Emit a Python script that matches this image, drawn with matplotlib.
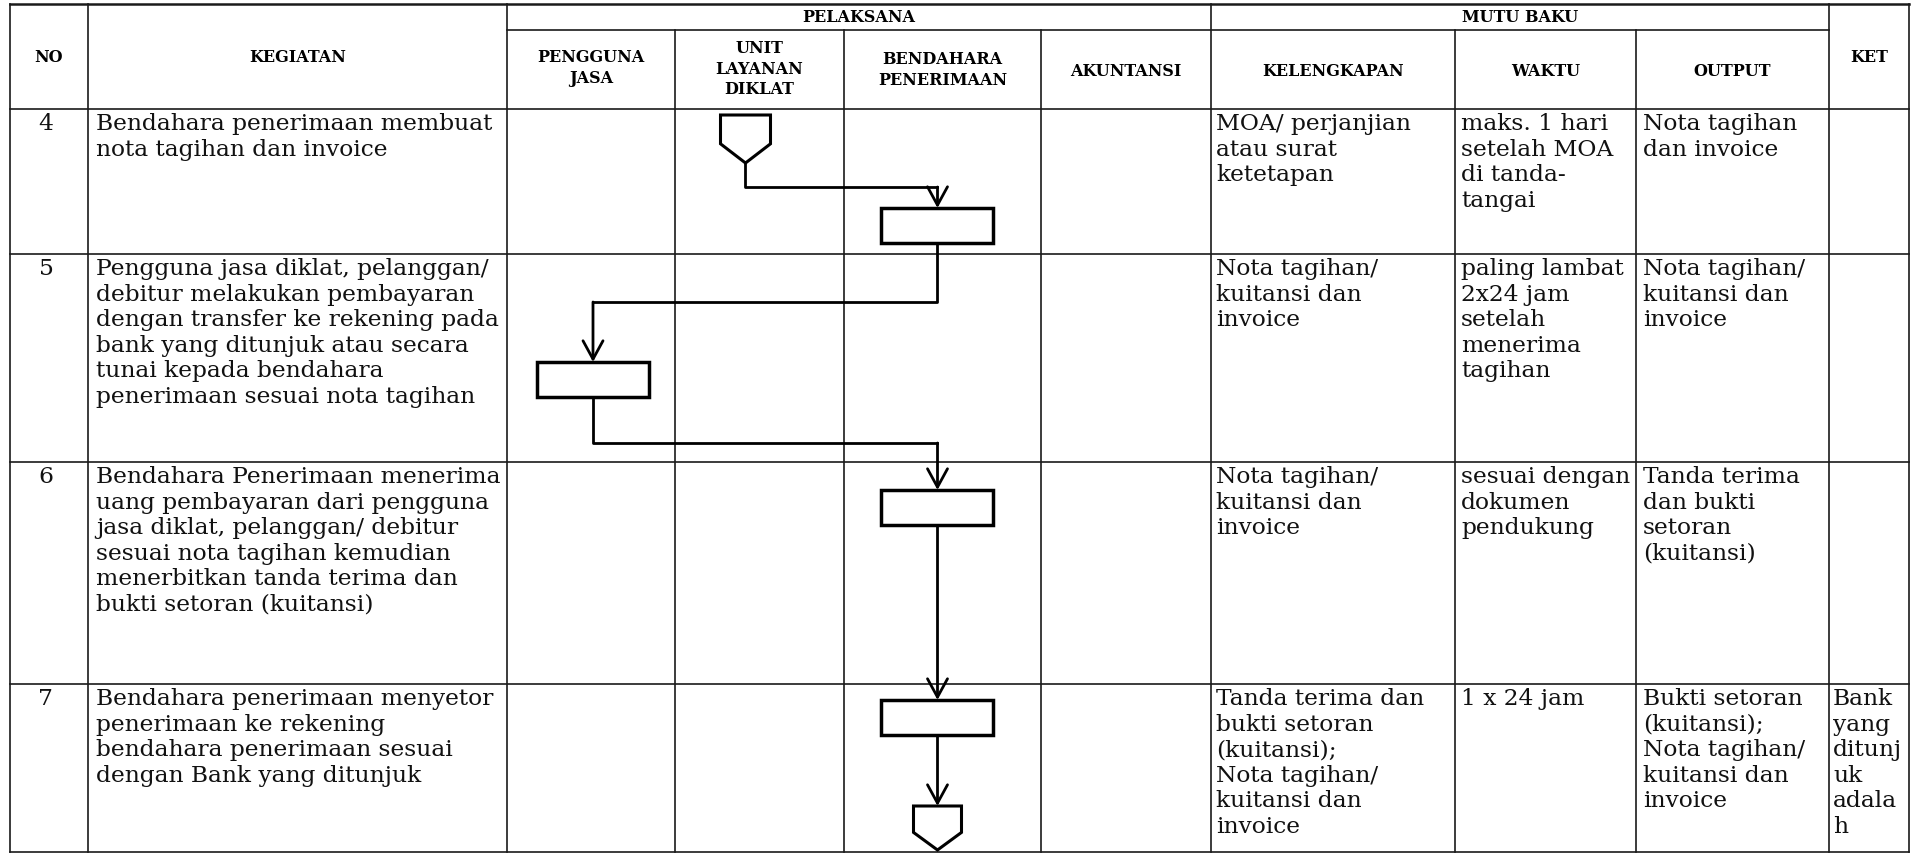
import matplotlib
matplotlib.use('Agg')
import matplotlib.pyplot as plt
from matplotlib.patches import Rectangle, Polygon

# isi tabel SOP
nomor = ['4', '5', '6', '7']

kegiatan = [
    'Bendahara penerimaan membuat\nnota tagihan dan invoice',
    'Pengguna jasa diklat, pelanggan/\ndebitur melakukan pembayaran\ndengan transfer ke rekening pada\n'
    'bank yang ditunjuk atau secara\ntunai kepada bendahara\npenerimaan sesuai nota tagihan',
    'Bendahara Penerimaan menerima\nuang pembayaran dari pengguna\njasa diklat, pelanggan/ debitur\n'
    'sesuai nota tagihan kemudian\nmenerbitkan tanda terima dan\nbukti setoran (kuitansi)',
    'Bendahara penerimaan menyetor\npenerimaan ke rekening\nbendahara penerimaan sesuai\ndengan Bank yang ditunjuk',
]

kelengkapan = [
    'MOA/ perjanjian\natau surat\nketetapan',
    'Nota tagihan/\nkuitansi dan\ninvoice',
    'Nota tagihan/\nkuitansi dan\ninvoice',
    'Tanda terima dan\nbukti setoran\n(kuitansi);\nNota tagihan/\nkuitansi dan\ninvoice',
]

waktu = [
    'maks. 1 hari\nsetelah MOA\ndi tanda-\ntangai',
    'paling lambat\n2x24 jam\nsetelah\nmenerima\ntagihan',
    'sesuai dengan\ndokumen\npendukung',
    '1 x 24 jam',
]

output = [
    'Nota tagihan\ndan invoice',
    'Nota tagihan/\nkuitansi dan\ninvoice',
    'Tanda terima\ndan bukti\nsetoran\n(kuitansi)',
    'Bukti setoran\n(kuitansi);\nNota tagihan/\nkuitansi dan\ninvoice',
]

ket = ['', '', '', 'Bank\nyang\nditunj\nuk\nadala\nh']

kolom_pelaksana = ['PENGGUNA\nJASA', 'UNIT\nLAYANAN\nDIKLAT', 'BENDAHARA\nPENERIMAAN', 'AKUNTANSI']
kolom_mutu = ['KELENGKAPAN', 'WAKTU', 'OUTPUT']

# langkah flowchart: (simbol, baris, kolom pelaksana)
langkah = [
    ('konektor', 0, 1),
    ('proses', 0, 2),
    ('proses', 1, 0),
    ('proses', 2, 2),
    ('proses', 3, 2),
    ('konektor', 3, 2),
]

# tata letak dalam piksel
x_garis = [10, 88, 507, 675, 844, 1041, 1211, 1455, 1636, 1829, 1909]
y_atas, y_sub = 4, 30
y_baris = [109, 254, 462, 684, 852]
node_top = [115, 208, 362, 490, 700, 806]
node_dx = [-14, -5, 2, -5, -5, -5]
node_lebar = [50, 112, 112, 112, 112, 48]
node_tinggi = [48, 35, 35, 35, 35, 44]
belokan = [187, 302, 443, None, None]

warna_garis = '#1a1a1a'
fs_isi = 16.8
fs_kepala = 11.5
font_isi = 'DejaVu Serif'

fig = plt.figure(figsize=(19.12, 8.55), dpi=100)
ax = fig.add_axes([0, 0, 1, 1])
ax.set_xlim(0, 1912)
ax.set_ylim(855, 0)
ax.axis('off')

# garis tabel
kw = dict(color=warna_garis, lw=1.2)
ax.plot([x_garis[0], x_garis[-1]], [y_atas, y_atas], color=warna_garis, lw=1.8)
ax.plot([x_garis[2], x_garis[9]], [y_sub, y_sub], **kw)
for y in y_baris:
    ax.plot([x_garis[0], x_garis[-1]], [y, y], **kw)
for i, x in enumerate(x_garis):
    y0 = y_sub if i in (3, 4, 5, 7, 8) else y_atas
    ax.plot([x, x], [y0, y_baris[-1]], **kw)

# kepala tabel
kh = dict(fontsize=fs_kepala, fontweight='bold', family=font_isi, ha='center', va='center', linespacing=1.3)
ax.text((x_garis[0] + x_garis[1]) / 2, 57, 'NO', **kh)
ax.text((x_garis[1] + x_garis[2]) / 2, 57, 'KEGIATAN', **kh)
ax.text((x_garis[2] + x_garis[6]) / 2, 17, 'PELAKSANA', **kh)
ax.text((x_garis[6] + x_garis[9]) / 2, 17, 'MUTU BAKU', **kh)
ax.text((x_garis[9] + x_garis[10]) / 2, 57, 'KET', **kh)
y_lajur = [68, 69, 70, 72]
for j, nama in enumerate(kolom_pelaksana):
    ax.text((x_garis[2 + j] + x_garis[3 + j]) / 2, y_lajur[j], nama, **kh)
for j, nama in enumerate(kolom_mutu):
    ax.text((x_garis[6 + j] + x_garis[7 + j]) / 2, 71, nama, **kh)

# isi baris
kt = dict(fontsize=fs_isi, family=font_isi, va='top', linespacing=1.21, color='#111111')
for r in range(len(nomor)):
    y = y_baris[r] + 4
    ax.text((x_garis[0] + x_garis[1]) / 2 - 3, y, nomor[r], ha='center', **kt)
    ax.text(x_garis[1] + 8, y, kegiatan[r], ha='left', **kt)
    ax.text(x_garis[6] + 5, y, kelengkapan[r], ha='left', **kt)
    ax.text(x_garis[7] + 6, y, waktu[r], ha='left', **kt)
    ax.text(x_garis[8] + 7, y, output[r], ha='left', **kt)
    ax.text(x_garis[9] + 4, y, ket[r], ha='left', **kt)

# flowchart
pusat, bawah = [], []
for k, (simbol, baris, lajur) in enumerate(langkah):
    cx = (x_garis[2 + lajur] + x_garis[3 + lajur]) / 2 + node_dx[k]
    top, w, h = node_top[k], node_lebar[k], node_tinggi[k]
    if simbol == 'proses':
        ax.add_patch(Rectangle((cx - w / 2, top), w, h, facecolor='white',
                               edgecolor='black', lw=2.5, zorder=3))
    else:
        pts = [(cx - w / 2, top), (cx + w / 2, top), (cx + w / 2, top + 0.6 * h),
               (cx, top + h), (cx - w / 2, top + 0.6 * h)]
        ax.add_patch(Polygon(pts, closed=True, facecolor='white', edgecolor='black', lw=2.2, zorder=3))
    pusat.append(cx)
    bawah.append(top + h)

panah = dict(arrowstyle='->,head_length=0.55,head_width=0.3', lw=2.0, color='black',
             shrinkA=0, shrinkB=0, mutation_scale=24)
for k in range(len(langkah) - 1):
    x0, y0 = pusat[k], bawah[k]
    x1, y1 = pusat[k + 1], node_top[k + 1]
    if belokan[k] is not None:
        e = belokan[k]
        ax.plot([x0, x0, x1], [y0, e, e], color='black', lw=2.0, zorder=2)
        ax.annotate('', xy=(x1, y1), xytext=(x1, e), arrowprops=panah, zorder=2)
    else:
        ax.annotate('', xy=(x1, y1), xytext=(x0, y0), arrowprops=panah, zorder=2)

fig.savefig('out.png', dpi=100, facecolor='white')
